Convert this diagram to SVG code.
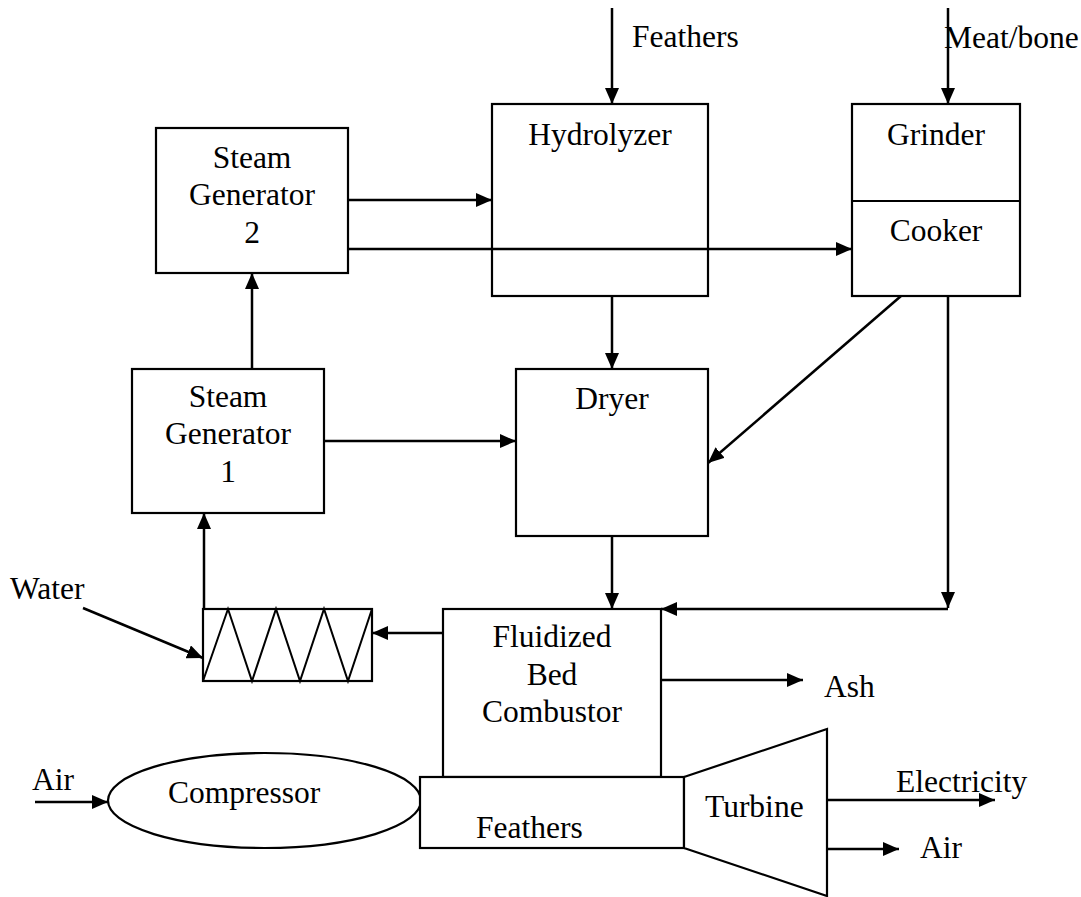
<svg xmlns="http://www.w3.org/2000/svg" width="1081" height="897" viewBox="0 0 1081 897">
<style>
.box{fill:#fff;stroke:#000;stroke-width:2.2}
.ln{fill:none;stroke:#000;stroke-width:2.5}
.t{font-family:"Liberation Serif","Times New Roman",serif;font-size:31.5px;fill:#000}
.c{text-anchor:middle}
</style>
<defs>
<marker id="ah" markerUnits="userSpaceOnUse" markerWidth="17" markerHeight="14" refX="16" refY="7" orient="auto">
<path d="M0,0 L16,7 L0,14 z" fill="#000"/>
</marker>
</defs>
<rect width="1081" height="897" fill="#fff"/>
<g id="connectors">
<line class="ln" x1="612" y1="8" x2="612" y2="104" marker-end="url(#ah)"/>
<line class="ln" x1="948" y1="8" x2="948" y2="104" marker-end="url(#ah)"/>
<line class="ln" x1="348" y1="200" x2="492" y2="200" marker-end="url(#ah)"/>
<line class="ln" x1="348" y1="249" x2="852" y2="249" marker-end="url(#ah)"/>
<line class="ln" x1="612" y1="296" x2="612" y2="369" marker-end="url(#ah)"/>
<line class="ln" x1="901" y1="296" x2="708" y2="463" marker-end="url(#ah)"/>
<line class="ln" x1="252" y1="369" x2="252" y2="273" marker-end="url(#ah)"/>
<line class="ln" x1="324" y1="441" x2="516" y2="441" marker-end="url(#ah)"/>
<line class="ln" x1="204" y1="609" x2="204" y2="513" marker-end="url(#ah)"/>
<line class="ln" x1="83" y1="608" x2="203" y2="658" marker-end="url(#ah)"/>
<line class="ln" x1="443" y1="633" x2="372" y2="633" marker-end="url(#ah)"/>
<line class="ln" x1="612" y1="536" x2="612" y2="609" marker-end="url(#ah)"/>
<line class="ln" x1="948" y1="296" x2="948" y2="608" marker-end="url(#ah)"/>
<line class="ln" x1="948" y1="609" x2="661" y2="609" marker-end="url(#ah)"/>
<line class="ln" x1="661" y1="680" x2="803" y2="680" marker-end="url(#ah)"/>
<line class="ln" x1="35" y1="802" x2="108" y2="802" marker-end="url(#ah)"/>
<line class="ln" x1="827" y1="800" x2="995" y2="800" marker-end="url(#ah)"/>
<line class="ln" x1="827" y1="849" x2="899" y2="849" marker-end="url(#ah)"/>
</g>
<g id="feathers-in"><text class="t" x="632" y="47">Feathers</text></g>
<g id="meatbone-in"><text class="t" x="944" y="48">Meat/bone</text></g>
<g id="steam-gen-2">
<rect class="box" x="156" y="128" width="192" height="145"/>
<text class="t c" x="252" y="168">Steam</text>
<text class="t c" x="252" y="205">Generator</text>
<text class="t c" x="252" y="243">2</text>
</g>
<g id="hydrolyzer">
<rect class="box" x="492" y="104" width="216" height="192" style="fill:none"/>
<text class="t c" x="600" y="145">Hydrolyzer</text>
</g>
<g id="grinder-cooker">
<rect class="box" x="852" y="104" width="168" height="192"/>
<line class="ln" x1="852" y1="201" x2="1020" y2="201" style="stroke-width:2.2"/>
<text class="t c" x="936" y="145">Grinder</text>
<text class="t c" x="936" y="241">Cooker</text>
</g>
<g id="steam-gen-1">
<rect class="box" x="132" y="369" width="192" height="144"/>
<text class="t c" x="228" y="407">Steam</text>
<text class="t c" x="228" y="444">Generator</text>
<text class="t c" x="228" y="482">1</text>
</g>
<g id="dryer">
<rect class="box" x="516" y="369" width="192" height="167"/>
<text class="t c" x="612" y="409">Dryer</text>
</g>
<g id="water-in"><text class="t" x="10" y="599">Water</text></g>
<g id="heat-exchanger">
<rect class="box" x="203" y="609" width="169" height="72"/>
<polyline fill="none" stroke="#000" stroke-width="2" points="203,681 228,609 252,681 276,609 300,681 324,609 348,681 372,609"/>
</g>
<g id="combustor">
<rect class="box" x="443" y="609" width="218" height="168"/>
<text class="t c" x="552" y="647">Fluidized</text>
<text class="t c" x="552" y="685">Bed</text>
<text class="t c" x="552" y="722">Combustor</text>
</g>
<g id="ash-out"><text class="t" x="824" y="697">Ash</text></g>
<g id="compressor">
<ellipse class="box" cx="264.5" cy="800.5" rx="156.5" ry="47.5"/>
<text class="t" x="168" y="803">Compressor</text>
</g>
<g id="air-in"><text class="t" x="32" y="790">Air</text></g>
<g id="feathers-chamber">
<rect class="box" x="420" y="777" width="264" height="71"/>
<text class="t" x="476" y="838">Feathers</text>
</g>
<g id="turbine">
<polygon class="box" points="684,777 827,729 827,896 684,848"/>
<text class="t" x="705" y="817">Turbine</text>
</g>
<g id="electricity-out"><text class="t" x="896" y="792">Electricity</text></g>
<g id="air-out"><text class="t" x="920" y="858">Air</text></g>
</svg>
